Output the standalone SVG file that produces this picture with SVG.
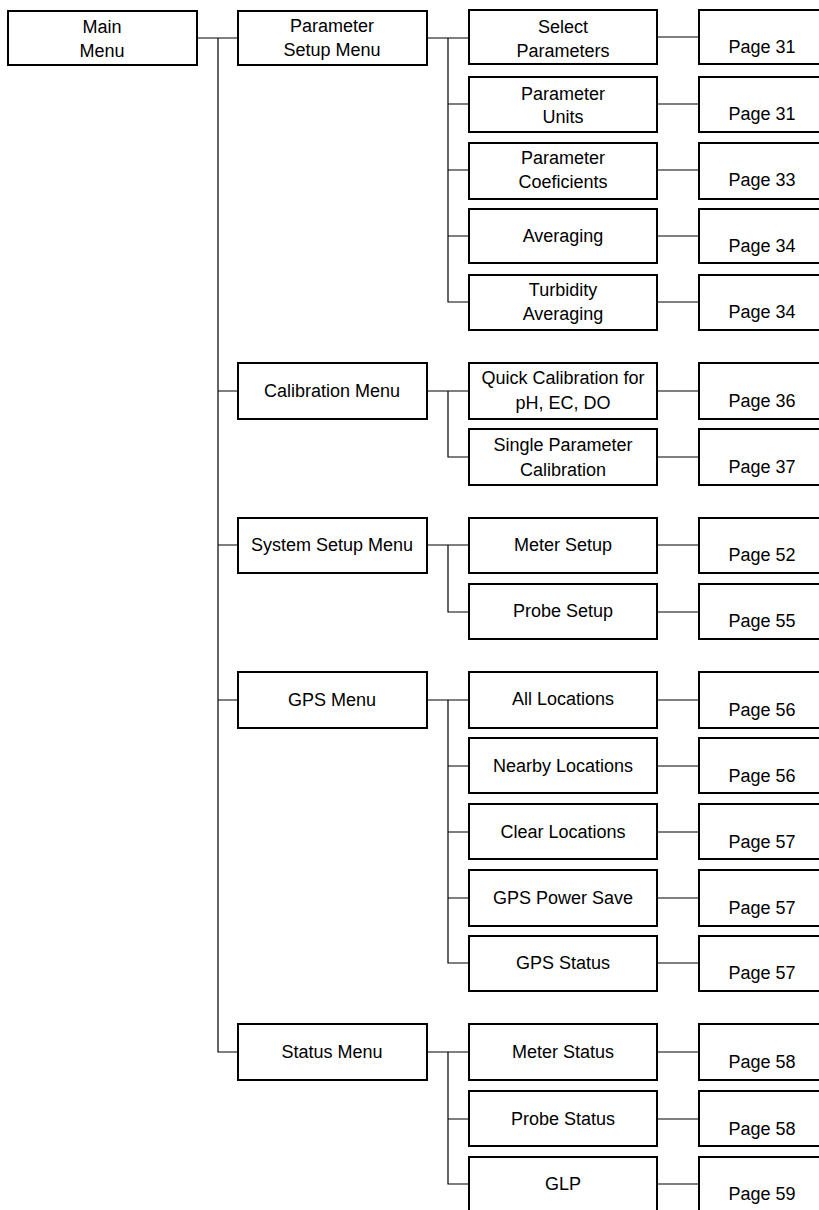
<svg xmlns="http://www.w3.org/2000/svg" width="819" height="1210" viewBox="0 0 819 1210">
<style>
.n rect{fill:#fff;stroke:#000;stroke-width:2}
.c path{stroke:#000;stroke-width:1.2;fill:none}
text{font-family:"Liberation Sans",Arial,sans-serif;font-size:18px;fill:#000;text-anchor:middle}
</style>
<rect width="819" height="1210" fill="#fff"/>
<g class="c" id="connectors">
<path d="M197,38H238M218,38V1052H238M218,391H238M218,545H238M218,700H238"/>
<path d="M427,38H469M448,38V302H469M448,104H469M448,170H469M448,236H469"/>
<path d="M427,391H469M448,391V457H469"/>
<path d="M427,545H469M448,545V612H469"/>
<path d="M427,700H469M448,700V963H469M448,766H469M448,832H469M448,898H469"/>
<path d="M427,1052H469M448,1052V1184H469M448,1119H469"/>
<path d="M657,37H699M657,104H699M657,170H699M657,236H699M657,302H699M657,391H699M657,457H699M657,545H699M657,612H699M657,700H699M657,766H699M657,832H699M657,898H699M657,963H699M657,1052H699M657,1119H699M657,1184H699"/>
</g>
<g class="n" id="main"><rect x="8" y="11" width="189" height="54"/><text x="102" y="33">Main</text><text x="102" y="57">Menu</text></g>
<g class="n" id="param-setup"><rect x="238" y="11" width="189" height="54"/><text x="332" y="32">Parameter</text><text x="332" y="56">Setup Menu</text></g>
<g class="n" id="calibration"><rect x="238" y="363" width="189" height="56"/><text x="332" y="397">Calibration Menu</text></g>
<g class="n" id="system-setup"><rect x="238" y="518" width="189" height="55"/><text x="332" y="551">System Setup Menu</text></g>
<g class="n" id="gps"><rect x="238" y="672" width="189" height="56"/><text x="332" y="706">GPS Menu</text></g>
<g class="n" id="status"><rect x="238" y="1024" width="189" height="56"/><text x="332" y="1058">Status Menu</text></g>

<g class="n" id="select-params"><rect x="469" y="10" width="188" height="54"/><text x="563" y="33">Select</text><text x="563" y="57">Parameters</text></g>
<g class="n" id="param-units"><rect x="469" y="77" width="188" height="55"/><text x="563" y="100">Parameter</text><text x="563" y="123">Units</text></g>
<g class="n" id="param-coef"><rect x="469" y="143" width="188" height="56"/><text x="563" y="164">Parameter</text><text x="563" y="188">Coeficients</text></g>
<g class="n" id="averaging"><rect x="469" y="209" width="188" height="54"/><text x="563" y="242">Averaging</text></g>
<g class="n" id="turbidity"><rect x="469" y="275" width="188" height="55"/><text x="563" y="296">Turbidity</text><text x="563" y="320">Averaging</text></g>
<g class="n" id="quick-cal"><rect x="469" y="363" width="188" height="56"/><text x="563" y="384">Quick Calibration for</text><text x="563" y="409">pH, EC, DO</text></g>
<g class="n" id="single-cal"><rect x="469" y="429" width="188" height="56"/><text x="563" y="451">Single Parameter</text><text x="563" y="476">Calibration</text></g>
<g class="n" id="meter-setup"><rect x="469" y="518" width="188" height="55"/><text x="563" y="551">Meter Setup</text></g>
<g class="n" id="probe-setup"><rect x="469" y="584" width="188" height="55"/><text x="563" y="617">Probe Setup</text></g>
<g class="n" id="all-loc"><rect x="469" y="672" width="188" height="56"/><text x="563" y="705">All Locations</text></g>
<g class="n" id="nearby-loc"><rect x="469" y="738" width="188" height="55"/><text x="563" y="772">Nearby Locations</text></g>
<g class="n" id="clear-loc"><rect x="469" y="804" width="188" height="55"/><text x="563" y="838">Clear Locations</text></g>
<g class="n" id="gps-power"><rect x="469" y="870" width="188" height="56"/><text x="563" y="904">GPS Power Save</text></g>
<g class="n" id="gps-status"><rect x="469" y="936" width="188" height="55"/><text x="563" y="969">GPS Status</text></g>
<g class="n" id="meter-status"><rect x="469" y="1024" width="188" height="56"/><text x="563" y="1058">Meter Status</text></g>
<g class="n" id="probe-status"><rect x="469" y="1091" width="188" height="55"/><text x="563" y="1125">Probe Status</text></g>
<g class="n" id="glp"><rect x="469" y="1157" width="188" height="60"/><text x="563" y="1190">GLP</text></g>

<g class="n" id="p1"><rect x="699" y="10" width="130" height="54"/><text x="762" y="53">Page 31</text></g>
<g class="n" id="p2"><rect x="699" y="77" width="130" height="55"/><text x="762" y="120">Page 31</text></g>
<g class="n" id="p3"><rect x="699" y="143" width="130" height="56"/><text x="762" y="186">Page 33</text></g>
<g class="n" id="p4"><rect x="699" y="209" width="130" height="54"/><text x="762" y="252">Page 34</text></g>
<g class="n" id="p5"><rect x="699" y="275" width="130" height="55"/><text x="762" y="318">Page 34</text></g>
<g class="n" id="p6"><rect x="699" y="363" width="130" height="56"/><text x="762" y="407">Page 36</text></g>
<g class="n" id="p7"><rect x="699" y="429" width="130" height="56"/><text x="762" y="473">Page 37</text></g>
<g class="n" id="p8"><rect x="699" y="518" width="130" height="55"/><text x="762" y="561">Page 52</text></g>
<g class="n" id="p9"><rect x="699" y="584" width="130" height="55"/><text x="762" y="627">Page 55</text></g>
<g class="n" id="p10"><rect x="699" y="672" width="130" height="56"/><text x="762" y="716">Page 56</text></g>
<g class="n" id="p11"><rect x="699" y="738" width="130" height="55"/><text x="762" y="782">Page 56</text></g>
<g class="n" id="p12"><rect x="699" y="804" width="130" height="55"/><text x="762" y="848">Page 57</text></g>
<g class="n" id="p13"><rect x="699" y="870" width="130" height="56"/><text x="762" y="914">Page 57</text></g>
<g class="n" id="p14"><rect x="699" y="936" width="130" height="55"/><text x="762" y="979">Page 57</text></g>
<g class="n" id="p15"><rect x="699" y="1024" width="130" height="56"/><text x="762" y="1068">Page 58</text></g>
<g class="n" id="p16"><rect x="699" y="1091" width="130" height="55"/><text x="762" y="1135">Page 58</text></g>
<g class="n" id="p17"><rect x="699" y="1157" width="130" height="60"/><text x="762" y="1200">Page 59</text></g>
</svg>
